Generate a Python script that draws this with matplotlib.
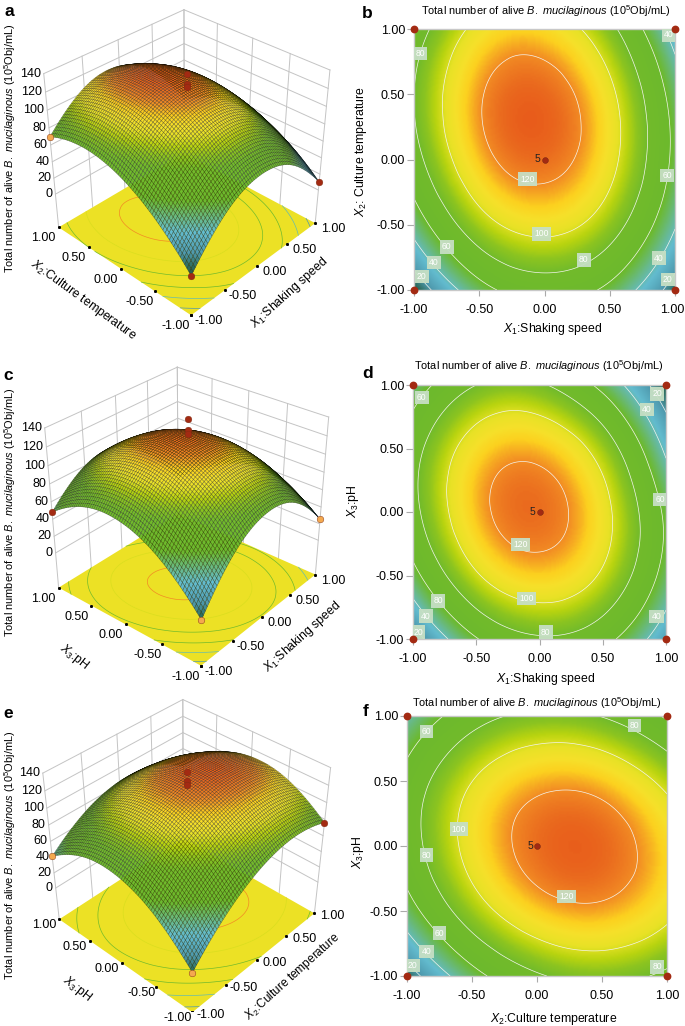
import numpy as np
import matplotlib
matplotlib.use("Agg")
import matplotlib.pyplot as plt
import matplotlib.tri as mtri
from matplotlib.colors import LinearSegmentedColormap, Normalize
from matplotlib.transforms import ScaledTranslation
from mpl_toolkits.mplot3d import proj3d

plt.rcParams["font.family"] = ["Liberation Sans", "DejaVu Sans"]
plt.rcParams["mathtext.fontset"] = "custom"
plt.rcParams["mathtext.rm"] = "Liberation Sans"
plt.rcParams["mathtext.it"] = "Liberation Sans:italic"
plt.rcParams["mathtext.bf"] = "Liberation Sans:bold"

W, H = 685, 1026

# ── Values (rows: second factor, -1 -> 1) ─────────────────────────────────────
GRID = [-1.0, -0.5, 0.0, 0.5, 1.0]
Z_TICKS = [0, 20, 40, 60, 80, 100, 120, 140]
FLOOR = -43
TICKS = [-1.0, -0.5, 0.0, 0.5, 1.0]
LEVELS = [20, 40, 60, 80, 100, 120]

z_x1x2 = [[5.3, 52.3, 68.8, 54.8, 10.2],
          [47.8, 92.0, 105.7, 88.8, 41.5],
          [72.7, 114.1, 124.9, 105.2, 55.0],
          [80.0, 118.4, 126.4, 103.9, 50.9],
          [69.5, 105.0, 110.3, 85.0, 29.8]]
z_x1x3 = [[9.9, 58.7, 77.6, 66.5, 25.4],
          [53.3, 98.0, 112.6, 97.4, 52.0],
          [74.1, 114.6, 125.1, 105.6, 56.0],
          [72.3, 108.6, 114.9, 91.2, 36.1],
          [47.9, 80.0, 82.1, 54.2, 6.0]]
z_x2x3 = [[9.9, 52.5, 77.7, 85.5, 75.9],
          [50.9, 90.3, 112.4, 117.0, 104.3],
          [69.7, 106.1, 125.0, 126.5, 110.7],
          [66.5, 99.8, 115.6, 114.0, 95.0],
          [41.3, 71.4, 84.0, 79.3, 57.2]]

# replicate centre points
center_a = [138, 127, 124]
center_c = [144, 132, 128]
center_e = [138, 128, 124]

labels_b = [(-0.95, 0.81, "80"), (0.955, 0.955, "40"), (0.94, -0.12, "60"), (-0.13, -0.15, "120"),
            (-0.02, -0.57, "100"), (-0.75, -0.67, "60"), (-0.85, -0.79, "40"), (-0.94, -0.895, "20"),
            (0.30, -0.77, "80"), (0.875, -0.755, "40"), (0.945, -0.92, "20")]
labels_d = [(-0.93, 0.90, "60"), (0.93, 0.93, "20"), (0.85, 0.805, "40"), (0.955, 0.10, "60"),
            (-0.15, -0.255, "120"), (-0.10, -0.68, "100"), (-0.80, -0.70, "80"), (-0.90, -0.82, "40"),
            (-0.96, -0.945, "20"), (0.05, -0.945, "80"), (0.925, -0.825, "40")]
labels_f = [(-0.85, 0.88, "60"), (0.75, 0.925, "80"), (-0.60, 0.13, "100"), (-0.85, -0.07, "80"),
            (0.225, -0.39, "120"), (-0.75, -0.67, "60"), (-0.85, -0.81, "40"), (-0.955, -0.92, "20"),
            (0.925, -0.93, "80")]

CMAP_LEVELS = [0, 10, 20, 35, 45, 58, 80, 88, 95, 102, 108, 113, 120, 126, 130]
CMAP_COLORS = ["#1d4d45", "#2f6f62", "#4f9aae", "#63bccf", "#68b98c", "#6cb92d",
               "#72bb2b", "#8cc420", "#b9d40f", "#e8e226", "#f6e02a", "#fcd11f",
               "#f28c24", "#ea6a1e", "#e8581a"]
cmap = LinearSegmentedColormap.from_list("rsm", [(v / 130, c) for v, c in zip(CMAP_LEVELS, CMAP_COLORS)])
norm = Normalize(0, 130)

RED = "#a32a12"
ORANGE = "#f4a94f"
GRAY = "#c4c4c4"
FS = 9

TITLE_Z = r"Total number of alive $\mathit{B.\ mucilaginous}$ (10$^{5}$Obj/mL)"


def refine(table, n=61):
    gx, gy = np.meshgrid(GRID, GRID)
    tri = mtri.Triangulation(gx.ravel(), gy.ravel())
    interp = mtri.CubicTriInterpolator(tri, np.asarray(table, float).ravel(), kind="min_E")
    xs = np.linspace(-1, 1, n)
    X, Y = np.meshgrid(xs, xs)
    return X, Y, np.ma.filled(interp(X, Y), np.nan)


def px_text(fig, x, y, s, **kw):
    kw.setdefault("ha", "center")
    kw.setdefault("va", "center")
    kw.setdefault("fontsize", FS)
    fig.text(x / W, 1 - y / H, s, **kw)


def surface_panel(fig, table, center, corner_colors, rect, view, tick_dy=(6, 11)):
    cx, cy, side = rect
    ax = fig.add_axes([(cx - side / 2) / W, 1 - (cy + side / 2) / H, side / W, side / H], projection="3d")
    ax.computed_zorder = False
    ax.set_xlim(-1, 1, view_margin=0)
    ax.set_ylim(-1, 1, view_margin=0)
    ax.set_zlim(FLOOR, 140, view_margin=0)
    ax.set_box_aspect((1, 1, 0.964))
    ax.view_init(elev=view[0], azim=view[1])
    ax.set_proj_type("persp", focal_length=0.55)
    ax.set_axis_off()
    ax.patch.set_alpha(0)

    # back walls
    for t in TICKS:
        ax.plot([t, t], [1, 1], [FLOOR, 140], color=GRAY, lw=0.7, zorder=1)
        ax.plot([1, 1], [t, t], [FLOOR, 140], color=GRAY, lw=0.7, zorder=1)
    for zt in Z_TICKS:
        ax.plot([-1, 1], [1, 1], [zt, zt], color=GRAY, lw=0.7, zorder=1)
        ax.plot([1, 1], [-1, 1], [zt, zt], color=GRAY, lw=0.7, zorder=1)

    X, Y, Z = refine(table, 71)
    ax.plot_surface(np.array([[-1, 1], [-1, 1]]), np.array([[-1, -1], [1, 1]]), np.full((2, 2), FLOOR),
                    color="#ece125", shade=False, linewidth=0, zorder=2)
    ax.contour(X, Y, Z, levels=LEVELS, zdir="z", offset=FLOOR, cmap=cmap, norm=norm, linewidths=0.5, zorder=3)
    ax.plot_surface(X, Y, Z, rstride=1, cstride=1, facecolors=cmap(norm(Z)), shade=False,
                    edgecolor=(0, 0, 0, 0.5), linewidth=0.3, antialiased=True, zorder=4)

    # floor ticks
    ax.plot(TICKS, [-1] * 5, [FLOOR] * 5, "s", color="k", ms=1.1, zorder=5)
    ax.plot([-1] * 5, TICKS, [FLOOR] * 5, "s", color="k", ms=1.1, zorder=5)

    # design points
    tab = np.asarray(table)
    for (ix, iy), col in zip([(0, 0), (4, 0), (0, 4)], corner_colors):
        ax.plot([GRID[ix]], [GRID[iy]], [tab[iy, ix]], "o", color=col, mec="#7a2a10", mew=0.3, ms=4.8, zorder=6)
    for zc in center:
        ax.plot([0], [0], [zc], "o", color=RED, mec="#7a2a10", mew=0.3, ms=4.8, zorder=6)

    M = ax.get_proj()

    def ann(x, y, z, s, dx, dy, **kw):
        u, v, _ = proj3d.proj_transform(x, y, z, M)
        ax.annotate(s, xy=(u, v), xycoords="data", xytext=(dx, -dy), textcoords="offset pixels",
                    fontsize=FS, annotation_clip=False, zorder=7, **kw)

    for zt in Z_TICKS:
        ann(-1, 1, zt, str(zt), -3, 0, ha="right", va="center")
    for t in TICKS:
        ann(t, -1, FLOOR, f"{t:.2f}", 18, tick_dy[0], ha="center", va="center")
        ann(-1, t, FLOOR, f"{t:.2f}", -15, tick_dy[1], ha="center", va="center")
    return ax


def contour_panel(fig, table, labels, rect):
    l, t, r, b = rect
    ax = fig.add_axes([l / W, 1 - b / H, (r - l) / W, (b - t) / H])
    X, Y, Z = refine(table, 161)
    ax.imshow(Z, extent=(-1, 1, -1, 1), origin="lower", cmap=cmap, norm=norm, aspect="auto", interpolation="bilinear")
    ax.contour(X, Y, Z, levels=LEVELS, colors="#f4f4ee", linewidths=0.5)
    for x, y, s in labels:
        ax.text(x, y, s, fontsize=6.2, color="white", ha="center", va="center", clip_on=True,
                bbox=dict(boxstyle="square,pad=0.25", fc="#c6dfc4", ec="none", alpha=0.95))
    ax.plot([-1, 1, -1, 1], [-1, -1, 1, 1], "o", color=RED, ms=4.6, clip_on=False, zorder=6)
    ax.plot([0], [0], "o", color=RED, mec="#6a2010", mew=0.3, ms=4.2, zorder=6)
    ax.text(-0.03, 0, "5", fontsize=7.5, ha="right", va="center", color="#222222")
    ax.set_xlim(-1, 1)
    ax.set_ylim(-1, 1)
    ax.set_xticks(TICKS, [f"{v:.2f}" for v in TICKS], fontsize=FS)
    ax.set_yticks(TICKS, [f"{v:.2f}" for v in TICKS], fontsize=FS)
    ax.tick_params(axis="x", length=4, width=0.8, color="#aaaaaa", pad=6)
    ax.tick_params(axis="y", length=5, width=0.8, color="#aaaaaa", pad=1.5)
    for s in ax.spines.values():
        s.set_color("#c8c8c8")
        s.set_linewidth(1.0)
    return ax


fig = plt.figure(figsize=(W / 100, H / 100), dpi=100)

# ── 3D panels ────────────────────────────────────────────────────────────────
surface_panel(fig, z_x1x2, center_a, [RED, RED, ORANGE], (183, 157, 318), (34, -136.5))
surface_panel(fig, z_x1x3, center_c, [ORANGE, ORANGE, RED], (184, 510, 318), (31, -140))
surface_panel(fig, z_x2x3, center_e, [ORANGE, RED, ORANGE], (183, 852, 318), (38, -137), tick_dy=(3, 6))

px_text(fig, 10, 148, TITLE_Z, rotation=90, fontsize=7.9)
px_text(fig, 10, 512, TITLE_Z, rotation=90, fontsize=7.9)
px_text(fig, 10, 855, TITLE_Z, rotation=90, fontsize=7.9)

px_text(fig, 83, 300, r"$\mathit{X}_{2}$:Culture temperature", rotation=-36, fontsize=8.8)
px_text(fig, 290, 293, r"$\mathit{X}_{1}$:Shaking speed", rotation=42, fontsize=8.8)
px_text(fig, 74, 657, r"$\mathit{X}_{3}$:pH", rotation=-38, fontsize=8.8)
px_text(fig, 303, 637, r"$\mathit{X}_{1}$:Shaking speed", rotation=42, fontsize=8.8)
px_text(fig, 77, 989, r"$\mathit{X}_{3}$:pH", rotation=-38, fontsize=8.8)
px_text(fig, 293, 977, r"$\mathit{X}_{2}$:Culture temperature", rotation=42, fontsize=8.6)

# ── contour panels ───────────────────────────────────────────────────────────
ax_b = contour_panel(fig, z_x1x2, labels_b, (414, 29, 675, 290))
contour_panel(fig, z_x1x3, labels_d, (413, 385, 666, 639))
contour_panel(fig, z_x2x3, labels_f, (407, 716, 667, 976))

# last tick label of b would run off the right edge
last = ax_b.get_xticklabels()[-1]
last.set_transform(last.get_transform() + ScaledTranslation(-3 / 100, 0, fig.dpi_scale_trans))

px_text(fig, 546, 11, TITLE_Z, fontsize=7.9)
px_text(fig, 539, 366, TITLE_Z, fontsize=7.9)
px_text(fig, 537, 703, TITLE_Z, fontsize=7.9)

px_text(fig, 553, 329, r"$\mathit{X}_{1}$:Shaking speed", fontsize=8.8)
px_text(fig, 546, 679, r"$\mathit{X}_{1}$:Shaking speed", fontsize=8.8)
px_text(fig, 554, 1019, r"$\mathit{X}_{2}$:Culture temperature", fontsize=8.8)
px_text(fig, 361, 152, r"$\mathit{X}_{2}$: Culture temperature", rotation=90, fontsize=8.8)
px_text(fig, 353, 501, r"$\mathit{X}_{3}$:pH", rotation=90, fontsize=8.8)
px_text(fig, 358, 852, r"$\mathit{X}_{3}$:pH", rotation=90, fontsize=8.8)

for x, y, s in [(9, 12, "a"), (367, 13, "b"), (8, 375, "c"), (368, 374, "d"), (8, 713, "e"), (366, 712, "f")]:
    px_text(fig, x, y, s, fontsize=12.5, fontweight="bold")

fig.savefig("out.png", dpi=100)
